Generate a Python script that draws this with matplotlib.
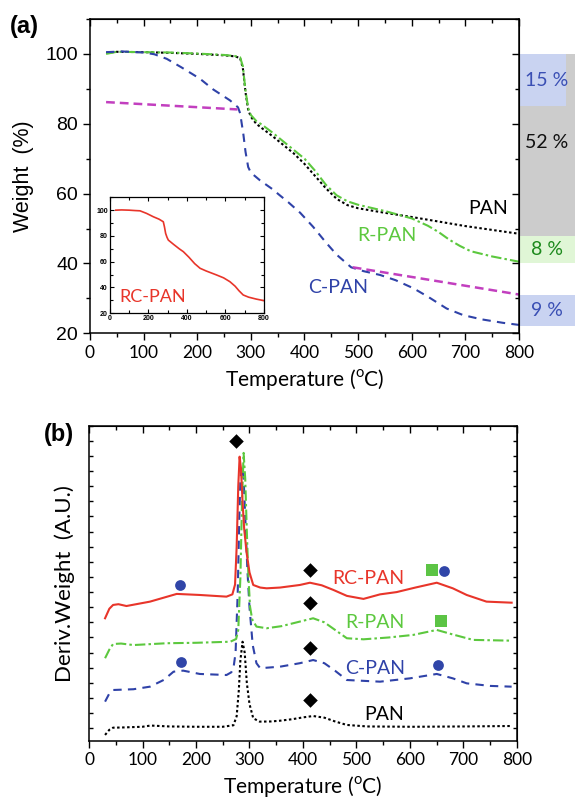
import matplotlib
matplotlib.use("Agg")
import matplotlib.pyplot as plt
from matplotlib.ticker import MultipleLocator
from matplotlib.patches import Rectangle

# ---------------- data: TGA (panel a) ----------------
T_pan = [30, 50, 100, 150, 200, 250, 270, 280, 285, 290, 295, 300, 310, 320, 340, 360, 380, 400,
         420, 440, 460, 480, 500, 550, 600, 650, 700, 750, 800]
W_pan = [100.3, 100.6, 100.5, 100.3, 100.0, 99.6, 99.3, 98.8, 96, 89, 84, 82, 80, 78.8, 76.5, 74,
         71.5, 68.5, 65, 61.5, 58.5, 56.7, 55.8, 54.5, 53.3, 52, 50.7, 49.6, 48.5]

T_rpan = [30, 50, 100, 150, 200, 250, 270, 280, 285, 290, 295, 300, 310, 320, 340, 360, 380, 400,
          420, 440, 460, 480, 500, 550, 600, 630, 650, 670, 690, 710, 750, 800]
W_rpan = [100.0, 100.6, 100.5, 100.4, 100.1, 99.7, 99.4, 99.0, 96.5, 89.5, 84.5, 82.5, 80.8, 79.8,
          77.5, 75, 72.5, 70, 66.5, 62.5, 59.5, 57.8, 56.8, 55, 52.9, 50.8, 49, 46.8, 45, 43.5, 42, 40.5]

T_cpan = [30, 60, 100, 120, 143, 170, 205, 230, 261, 276, 280, 286, 290, 295, 300, 317, 340, 354,
          370, 392, 416, 440, 460, 487, 510, 541, 570, 603, 630, 665, 696, 730, 770, 800]
W_cpan = [100.5, 100.7, 100.4, 99.9, 98.6, 96.2, 92.9, 89.8, 86.7, 84.7, 83, 77, 72, 67.6, 66, 63.8,
          61.3, 59.5, 57.5, 54.5, 50.5, 46, 42.5, 38.9, 37.8, 36.7, 35.2, 32.9, 30.5, 27.1, 25.2, 24,
          23, 22.4]

T_mag1 = [30, 275]
W_mag1 = [86.2, 84.1]
T_mag2 = [490, 800]
W_mag2 = [38.9, 31.1]

T_rc = [30, 60, 100, 130, 156, 190, 225, 255, 277, 283, 289, 296, 303, 330, 360, 381, 410, 440, 468,
        500, 554, 590, 623, 650, 670, 692, 720, 760, 800]
W_rc = [100, 100.2, 100, 99.7, 99.5, 97.5, 94.9, 93, 91, 87, 82, 79, 76.8, 73.5, 70, 67.8, 63.5,
        58.5, 54.9, 52.8, 49.7, 47.5, 44.5, 41, 37.5, 34.2, 32.5, 31, 29.8]

# residue / loss bands at right of panel a: (y_low, y_high)
bar_gray = (48, 100)
bar_15 = (85, 100)
bar_8 = (40, 48)
bar_9 = (22, 31)
bar_labels = ["15 %", "52 %", "8 %", "9 %"]

# ---------------- data: DTG (panel b, offset arbitrary units) ----------------
T_dpan = [30, 38, 45, 60, 100, 115, 150, 200, 250, 270, 276, 280, 283, 287, 291, 295, 300, 307, 319,
          340, 357, 380, 400, 419, 440, 460, 482, 520, 606, 700, 790]
D_pan = [-0.44, -0.1, 0.04, 0.05, 0.1, 0.18, 0.12, 0.1, 0.1, 0.2, 0.8, 2.5, 4.5, 5.72, 5.0, 3.0, 1.6,
         0.66, 0.44, 0.45, 0.5, 0.6, 0.72, 0.81, 0.7, 0.45, 0.22, 0.12, 0.1, 0.12, 0.15]

T_drc = [30, 38, 45, 55, 70, 114, 164, 207, 257, 268, 273, 276, 279, 281.5, 284, 287, 290, 294.6, 300,
         307, 320, 332, 357, 394, 413, 435, 457, 482, 513, 544, 575, 610, 650, 680, 706, 743, 790]
D_rc = [7.27, 7.9, 8.15, 8.2, 8.08, 8.37, 8.88, 8.81, 8.7, 8.85, 9.5, 12, 16, 17.95, 17.2, 15, 13.2,
        11.6, 10.3, 9.47, 9.3, 9.25, 9.3, 9.47, 9.62, 9.45, 9.14, 8.75, 8.55, 8.85, 9.0, 9.3, 9.62,
        9.25, 8.81, 8.37, 8.3]

T_drpan = [30, 38, 45, 60, 83, 145, 200, 264, 275, 279, 283, 286, 289, 292, 295, 298, 301, 305, 313,
           332, 360, 394, 419, 440, 460, 482, 513, 560, 606, 650, 680, 718, 790]
D_rpan = [4.63, 5.2, 5.57, 5.6, 5.5, 5.62, 5.65, 5.72, 5.9, 6.5, 10, 15, 18.2, 16.5, 13, 10, 8.04,
          7.2, 6.72, 6.61, 6.75, 7.05, 7.27, 7.0, 6.5, 5.95, 5.88, 6.0, 6.17, 6.5, 6.2, 5.84, 5.79]

T_dcpan = [30, 38, 45, 83, 114, 140, 158, 176, 207, 257, 266, 270, 274, 278, 281, 283, 286, 289, 292,
           296, 300, 306, 313, 320, 357, 394, 419, 440, 460, 482, 544, 600, 650, 680, 706, 750, 790]
D_cpan = [1.76, 2.3, 2.53, 2.58, 2.75, 3.2, 3.74, 3.81, 3.59, 3.52, 3.7, 3.97, 5, 9, 14, 16.5, 17.3,
          16.5, 14, 10.5, 8, 5.5, 4.3, 3.97, 4.07, 4.3, 4.51, 4.3, 3.8, 3.19, 3.08, 3.3, 3.59, 3.3,
          2.97, 2.8, 2.75]

diamond_T = [275, 413, 413, 413, 413]
diamond_y = [19.0, 10.46, 8.3, 5.29, 1.87]
circle_T = [170, 172, 663, 653]
circle_y = [9.47, 4.4, 10.39, 4.16]
square_T = [641, 658]
square_y = [10.46, 7.11]

# ---------------- styles ----------------
C_BLACK = "#000000"
C_GREEN = "#5cc83e"
C_BLUE = "#2f42a8"
C_MAG = "#c23fbf"
C_RED = "#e8352a"
ARIAL = "Liberation Sans"
CAL = "Lato"

fig = plt.figure(figsize=(5.75, 8.01), dpi=100)

# ================= panel a =================
ax = fig.add_axes([0.1565, 0.5839, 0.7461, 0.3924])
ax.plot(T_pan, W_pan, color=C_BLACK, lw=1.5, ls=(0, (1.2, 1.2)))
ax.plot(T_rpan, W_rpan, color=C_GREEN, lw=1.5, ls=(0, (5, 1.5, 1.2, 1.5)))
ax.plot(T_cpan, W_cpan, color=C_BLUE, lw=1.5, ls=(0, (4, 3)))
ax.plot(T_mag1, W_mag1, color=C_MAG, lw=1.8, ls=(0, (3.5, 2)))
ax.plot(T_mag2, W_mag2, color=C_MAG, lw=1.8, ls=(0, (3.5, 2)))
ax.set_xlim(0, 800)
ax.set_ylim(20, 110)
ax.xaxis.set_major_locator(MultipleLocator(100))
ax.xaxis.set_minor_locator(MultipleLocator(50))
ax.yaxis.set_major_locator(MultipleLocator(20))
ax.yaxis.set_minor_locator(MultipleLocator(10))
ax.tick_params(which="both", direction="out", top=False, right=False, width=1)
ax.tick_params(which="major", length=5)
ax.tick_params(which="minor", length=3)
for lab in ax.get_yticklabels():
    lab.set_fontfamily(ARIAL)
    lab.set_fontsize(14)
for lab in ax.get_xticklabels():
    lab.set_fontfamily(CAL)
    lab.set_fontsize(12.5)
for s in ax.spines.values():
    s.set_linewidth(1.1)
sx = ax.secondary_xaxis("top")
sx.xaxis.set_major_locator(MultipleLocator(100))
sx.xaxis.set_minor_locator(MultipleLocator(50))
sx.tick_params(which="both", direction="in", labeltop=False, width=1)
sx.tick_params(which="major", length=5)
sx.tick_params(which="minor", length=3)
sy = ax.secondary_yaxis("right")
sy.yaxis.set_major_locator(MultipleLocator(20))
sy.yaxis.set_minor_locator(MultipleLocator(10))
sy.tick_params(which="both", direction="in", labelright=False, width=1)
sy.tick_params(which="major", length=5)
sy.tick_params(which="minor", length=3)

ax.set_ylabel("Weight  (%)", fontfamily=ARIAL, fontsize=15.5, labelpad=8)
ax.set_xlabel("Temperature ($^{\\mathregular{o}}$C)", fontfamily=CAL, fontsize=15, labelpad=4)

ax.text(742, 55.8, "PAN", color=C_BLACK, fontfamily=CAL, fontsize=14, ha="center", va="center")
ax.text(553, 48.1, "R-PAN", color=C_GREEN, fontfamily=CAL, fontsize=14, ha="center", va="center")
ax.text(463, 33.0, "C-PAN", color=C_BLUE, fontfamily=CAL, fontsize=14, ha="center", va="center")

# right-side bands
ax.add_patch(Rectangle((800, bar_gray[0]), 110, bar_gray[1] - bar_gray[0], facecolor="#cccccc",
                       edgecolor="none", clip_on=False, zorder=0))
ax.add_patch(Rectangle((800, bar_15[0]), 88, bar_15[1] - bar_15[0], facecolor="#c9d3f1",
                       edgecolor="none", clip_on=False, zorder=0))
ax.add_patch(Rectangle((800, bar_8[0]), 110, bar_8[1] - bar_8[0], facecolor="#e0f6d6",
                       edgecolor="none", clip_on=False, zorder=0))
ax.add_patch(Rectangle((800, bar_9[0]), 110, bar_9[1] - bar_9[0], facecolor="#c9d3f1",
                       edgecolor="none", clip_on=False, zorder=0))
ax.text(852, 92.4, bar_labels[0], color="#3a4fb4", fontfamily=CAL, fontsize=14, ha="center", va="center", clip_on=False)
ax.text(852, 74.7, bar_labels[1], color="#111111", fontfamily=CAL, fontsize=14, ha="center", va="center", clip_on=False)
ax.text(852, 44.1, bar_labels[2], color="#1d8a1d", fontfamily=CAL, fontsize=14, ha="center", va="center", clip_on=False)
ax.text(852, 26.5, bar_labels[3], color="#3a4fb4", fontfamily=CAL, fontsize=14, ha="center", va="center", clip_on=False)

fig.text(24 / 575, 1 - 27 / 801, "(a)", fontfamily=ARIAL, fontweight="bold", fontsize=17,
         ha="center", va="center")

# inset
ai = fig.add_axes([0.1913, 0.6089, 0.2678, 0.1448])
ai.plot(T_rc, W_rc, color=C_RED, lw=1.2)
ai.set_xlim(0, 800)
ai.set_ylim(20, 110)
ai.xaxis.set_major_locator(MultipleLocator(200))
ai.xaxis.set_minor_locator(MultipleLocator(100))
ai.yaxis.set_major_locator(MultipleLocator(20))
ai.yaxis.set_minor_locator(MultipleLocator(10))
ai.tick_params(which="both", direction="in", top=True, right=True, width=0.8, pad=1.5)
ai.tick_params(which="major", length=3)
ai.tick_params(which="minor", length=2)
for lab in ai.get_xticklabels() + ai.get_yticklabels():
    lab.set_fontfamily(ARIAL)
    lab.set_fontweight("bold")
    lab.set_fontsize(5)
for s in ai.spines.values():
    s.set_linewidth(0.9)
ai.text(220, 33, "RC-PAN", color=C_RED, fontfamily=CAL, fontsize=13, ha="center", va="center")

# ================= panel b =================
bx = fig.add_axes([0.1548, 0.0753, 0.7443, 0.3933])
bx.plot(T_dpan, D_pan, color=C_BLACK, lw=1.5, ls=(0, (1.2, 1.2)))
bx.plot(T_dcpan, D_cpan, color=C_BLUE, lw=1.5, ls=(0, (4, 3)))
bx.plot(T_drpan, D_rpan, color=C_GREEN, lw=1.5, ls=(0, (5, 1.5, 1.2, 1.5)))
bx.plot(T_drc, D_rc, color=C_RED, lw=1.5)
bx.scatter(diamond_T, diamond_y, marker="D", s=55, color="black", zorder=5, linewidths=0)
bx.scatter(circle_T, circle_y, marker="o", s=60, color="#3045a8", zorder=5, linewidths=0)
bx.scatter(square_T, square_y, marker="s", s=65, color="#5cc445", zorder=5, linewidths=0)
bx.set_xlim(0, 800)
bx.set_ylim(-0.82, 20)
bx.xaxis.set_major_locator(MultipleLocator(100))
bx.xaxis.set_minor_locator(MultipleLocator(50))
bx.yaxis.set_major_locator(MultipleLocator(1))
bx.tick_params(axis="x", which="both", direction="out", top=False, width=1)
bx.tick_params(axis="x", which="major", length=5)
bx.tick_params(axis="x", which="minor", length=3)
bx.tick_params(axis="y", which="both", direction="in", labelleft=False, right=False, length=3, width=1)
for lab in bx.get_xticklabels():
    lab.set_fontfamily(CAL)
    lab.set_fontsize(12.5)
for s in bx.spines.values():
    s.set_linewidth(1.1)
bsx = bx.secondary_xaxis("top")
bsx.xaxis.set_major_locator(MultipleLocator(100))
bsx.xaxis.set_minor_locator(MultipleLocator(50))
bsx.tick_params(which="both", direction="in", labeltop=False, width=1)
bsx.tick_params(which="major", length=5)
bsx.tick_params(which="minor", length=3)
bsy = bx.secondary_yaxis("right")
bsy.yaxis.set_major_locator(MultipleLocator(1))
bsy.tick_params(which="both", direction="in", labelright=False, length=3, width=1)

bx.set_ylabel("Deriv.Weight  (A.U.)", fontfamily=CAL, fontsize=16, labelpad=10)
bx.set_xlabel("Temperature ($^{\\mathregular{o}}$C)", fontfamily=CAL, fontsize=15, labelpad=4)

bx.text(523, 9.91, "RC-PAN", color=C_RED, fontfamily=CAL, fontsize=14, ha="center", va="center")
bx.text(534, 6.98, "R-PAN", color=C_GREEN, fontfamily=CAL, fontsize=14, ha="center", va="center")
bx.text(534, 3.97, "C-PAN", color=C_BLUE, fontfamily=CAL, fontsize=14, ha="center", va="center")
bx.text(551, 0.94, "PAN", color=C_BLACK, fontfamily=CAL, fontsize=14, ha="center", va="center")

fig.text(59 / 575, 1 - 435 / 801, "(b)", fontfamily=ARIAL, fontweight="bold", fontsize=17,
         ha="center", va="center")

fig.savefig("out.png", dpi=100)
